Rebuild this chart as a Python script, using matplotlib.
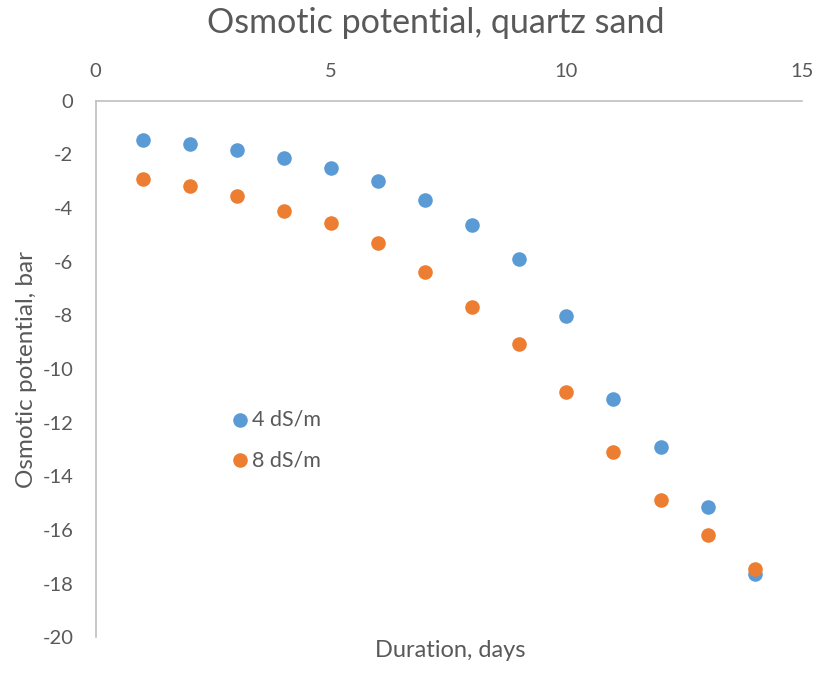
import matplotlib
matplotlib.use("Agg")
import matplotlib.pyplot as plt

# osmotic potential (bar) by day for the two salinity levels
days = [1, 2, 3, 4, 5, 6, 7, 8, 9, 10, 11, 12, 13, 14]
ec4 = [-1.47, -1.62, -1.85, -2.15, -2.52, -2.98, -3.69, -4.64, -5.90, -8.01,
       -11.11, -12.91, -15.14, -17.64]
ec8 = [-2.93, -3.19, -3.56, -4.10, -4.55, -5.30, -6.37, -7.67, -9.05, -10.85,
       -13.10, -14.90, -16.20, -17.45]
labels = ["4 dS/m", "8 dS/m"]
yticks = list(range(0, -21, -2))
xticks = [0, 5, 10, 15]

TEXT = "#595959"
AXIS = "#bfbfbf"
plt.rcParams["font.family"] = ["Lato", "DejaVu Sans"]
plt.rcParams["axes.unicode_minus"] = False

fig = plt.figure(figsize=(8.16, 6.76), dpi=100)
ax = fig.add_axes([0.1173, 0.0572, 0.8652, 0.7938])

ax.scatter(days, ec4, s=110, color="#5B9BD5", label=labels[0], zorder=3,
           linewidths=0)
ax.scatter(days, ec8, s=110, color="#ED7D31", label=labels[1], zorder=3,
           linewidths=0)

ax.set_xlim(0, 15)
ax.set_ylim(-20, 0)
ax.set_xticks(xticks)
ax.set_yticks(yticks)
ax.xaxis.tick_top()
ax.tick_params(axis="both", length=0, labelsize=14.5, labelcolor=TEXT)
ax.tick_params(axis="x", pad=15)
ax.tick_params(axis="y", pad=16)
for side in ("right", "bottom"):
    ax.spines[side].set_visible(False)
for side in ("left", "top"):
    ax.spines[side].set_color(AXIS)
    ax.spines[side].set_linewidth(1.2)

fig.text(0.534, 0.966, "Osmotic potential, quartz sand", ha="center",
         va="center", fontsize=24.5, color=TEXT)
fig.text(0.552, 0.037, "Duration, days", ha="center", va="center",
         fontsize=17, color=TEXT)
fig.text(0.032, 0.454, "Osmotic potential, bar", ha="center", va="center",
         rotation=90, fontsize=17.5, color=TEXT)

ax.legend(loc="upper left", bbox_to_anchor=(0.287, 0.394),
          bbox_transform=fig.transFigure, frameon=False, fontsize=15.5,
          labelcolor=TEXT, handlelength=0.55, handletextpad=0.3,
          labelspacing=0.95, borderaxespad=0, borderpad=0)

fig.savefig("out.png", dpi=100)
